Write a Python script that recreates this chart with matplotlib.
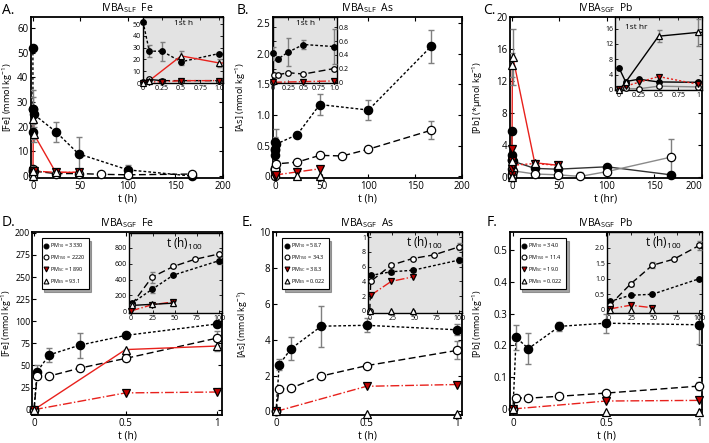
import numpy as np
import matplotlib
matplotlib.use("Agg")
import matplotlib.pyplot as plt

plt.rcParams['font.family'] = ['Open Sans', 'DejaVu Sans']
plt.rcParams['mathtext.fontset'] = 'custom'
plt.rcParams['mathtext.rm'] = 'Open Sans'
plt.rcParams['mathtext.it'] = 'Open Sans'

# ---------------- data ----------------
# A. IVBA_SLF Fe
a10_t = [0, 0.083, 0.25, 0.5, 1, 24, 48, 100, 167]
a10_y = [52, 27, 27, 18, 25, 18, 9, 2.5, 0]
a10_e = [0, 5, 8, 3, 0, 4, 7, 2, 0]
a150_t = [0, 0.083, 0.25, 0.5, 1, 24, 48, 72, 100, 167]
a150_y = [0.5, 3, 2, 2, 2, 1, 1, 0.7, 0.5, 0.8]
asc_t = [0, 0.083, 0.25, 0.5, 1, 24, 48]
asc_y = [0, 1, 1, 2, 2, 1.5, 1.5]
aes_t = [0, 0.083, 0.5, 1, 24, 48]
aes_y = [0, 2, 23, 17, 1.5, 1.5]
aes_e = [0, 0, 4, 3, 0, 1]

# B. IVBA_SLF As
b10_t = [0, 0.083, 0.25, 0.5, 1, 24, 48, 100, 167]
b10_y = [0.42, 0.34, 0.44, 0.55, 0.52, 0.68, 1.17, 1.08, 2.12]
b10_e = [0.1, 0.03, 0.2, 0.07, 0.25, 0.04, 0.17, 0.16, 0.27]
b150_t = [0, 0.017, 0.083, 0.25, 0.5, 1, 24, 48, 72, 100, 167]
b150_y = [0.0, 0.1, 0.11, 0.14, 0.12, 0.2, 0.23, 0.34, 0.33, 0.44, 0.75]
b150_e = [0, 0, 0, 0, 0, 0, 0.02, 0.03, 0.02, 0.03, 0.15]
bsc_t = [0, 0.5, 1, 24, 48]
bsc_y = [0.0, 0.01, 0.02, 0.07, 0.12]
bes_t = [24, 48]
bes_y = [0.0, 0.0]

# C. IVBA_SGF Pb
c10_t = [0, 0.083, 0.25, 0.5, 1, 24, 48, 100, 167]
c10_y = [5.8, 2.2, 2.8, 2.1, 2.0, 1.1, 1.0, 1.3, 0.3]
c150_t = [0, 0.083, 0.25, 0.5, 1, 24, 48, 72, 100, 167]
c150_y = [0.0, 0.4, 0.3, 1.0, 0.8, 0.4, 0.3, 0.1, 0.7, 2.5]
c150_e = [0, 0, 0, 0, 0, 0, 0, 0.5, 0.3, 2.3]
csc_t = [0, 0.083, 0.25, 0.5, 1, 24, 48]
csc_y = [0.3, 1.0, 2.0, 3.5, 1.5, 1.7, 1.5]
ces_t = [0, 0.083, 0.5, 1, 24, 48]
ces_y = [0, 2.0, 14.0, 15.0, 1.8, 1.5]
ces_e = [0, 0, 1.5, 3.5, 0, 0]

# D. IVBA_SGF Fe
d_t = [0, 0.017, 0.083, 0.25, 0.5, 1]
d10_y = [0, 43, 62, 73, 84, 97]
d10_e = [0, 7, 8, 14, 3, 3]
d150_y = [0, 38, 38, 47, 58, 81]
d150_e = [0, 0, 0, 3, 3, 8]
dsc_t = [0, 0.5, 1]
dsc_y = [0, 19, 20]
des_y = [0, 68, 72]
des_e = [0, 0, 6]
di10_t = [1, 24, 48, 100]
di10_y = [97, 275, 455, 640]
di10_e = [0, 40, 15, 40]
di150_t = [1, 24, 48, 72, 100]
di150_y = [81, 430, 565, 655, 725]
di150_e = [0, 70, 0, 0, 20]
disc_t = [0, 24, 48]
disc_y = [0, 80, 115]
dies_t = [1, 24, 48]
dies_y = [71, 85, 100]
dies_e = [0, 20, 30]
d_ticks = [0, 25, 50, 75, 100, 125, 150, 175, 200]
d_ticklabels = ['0', '25', '50', '75', '100', '225', '250', '275', '200']

# E. IVBA_SGF As
e10_y = [0, 2.6, 3.5, 4.75, 4.8, 4.55]
e10_e = [0, 0.3, 0.65, 1.15, 0.4, 0.3]
e150_y = [0, 1.25, 1.3, 1.97, 2.55, 3.4]
e150_e = [0, 0.1, 0.1, 0.15, 0.08, 0.5]
esc_y = [0, 1.4, 1.5]
ees_y = [0, -0.15, -0.15]
ei10_t = [1, 24, 48, 100]
ei10_y = [4.8, 5.3, 5.5, 6.9]
ei10_e = [0, 0.3, 0.2, 0.4]
ei150_t = [0, 1, 24, 48, 72, 100]
ei150_y = [0, 4.0, 6.2, 7.1, 7.6, 8.7]
ei150_e = [0, 0, 0.2, 0, 0, 0.5]
eisc_t = [1, 24, 48]
eisc_y = [2.1, 4.0, 4.6]
eies_t = [0, 24, 48]
eies_y = [0, 0, 0]

# F. IVBA_SGF Pb
f10_y = [0, 0.225, 0.19, 0.26, 0.27, 0.265]
f10_e = [0, 0.04, 0.05, 0.015, 0.03, 0.06]
f150_y = [0, 0.035, 0.034, 0.04, 0.05, 0.072]
f150_e = [0, 0, 0, 0, 0.005, 0.012]
fsc_y = [0, 0.025, 0.027]
fes_y = [0, -0.01, -0.01]
fi10_t = [1, 24, 48, 100]
fi10_y = [0.27, 0.47, 0.5, 1.0]
fi150_t = [1, 24, 48, 72, 100]
fi150_y = [0.15, 0.83, 1.43, 1.63, 2.07]
fi150_e = [0, 0.05, 0.1, 0, 0.15]
fisc_t = [1, 24, 48]
fisc_y = [0.03, 0.15, 0.07]
fies_t = [1, 24, 48]
fies_y = [0, 0, 0]

legend_names = ['PM$_{10}$', 'PM$_{150}$', 'PM$_{SC}$', 'PM$_{ES}$']
d_leg = ['3330', '2220', '1890', '93.1']
e_leg = ['58.7', '34.3', '38.3', '0.022']
f_leg = ['34.0', '11.4', '19.0', '0.022']

# ---------------- styles ----------------
RED = '#e8211c'
STY = {
    'pm10': dict(marker='o', mfc='black', ls=(0, (2, 1.5)), lc='black'),
    'pm150': dict(marker='o', mfc='white', ls=(0, (5, 2.5)), lc='black'),
    'pmsc': dict(marker='v', mfc='#c00000', ls='-.', lc=RED),
    'pmes': dict(marker='^', mfc='white', ls='-', lc=RED),
}
W, H = 709, 443
TICK_FS = 7.0


def px_axes(fig, x0, y0, x1, y1, **kw):
    return fig.add_axes([x0 / W, 1 - y1 / H, (x1 - x0) / W, (y1 - y0) / H], **kw)


def draw(ax, t, y, kind, err=None, ms=6, lc=None, ls=None, lw=1.0):
    s = STY[kind]
    ls = s['ls'] if ls is None else ls
    lc = s['lc'] if lc is None else lc
    if ls != 'none':
        ax.plot(t, y, ls=ls, color=lc, lw=lw, zorder=2)
    if err is not None:
        ax.errorbar(t, y, yerr=err, fmt='none', ecolor='#7f7f7f', elinewidth=1,
                    capsize=2.5 if ms > 5 else 1.8, zorder=3)
    ax.plot(t, y, ls='none', marker=s['marker'], ms=ms, mfc=s['mfc'],
            mec='black', mew=0.9, zorder=4, clip_on=False)


def style_axes(ax, ylabel_x, lw=1.3):
    ax.tick_params(direction='in', top=True, right=True, labelsize=TICK_FS,
                   length=3, width=0.8, pad=2)
    for sp in ax.spines.values():
        sp.set_linewidth(lw)
    ax.yaxis.set_label_coords(ylabel_x, 0.5)


def make_inset(ax, fs=5):
    ax.set_facecolor('#e3e3e3')
    ax.tick_params(direction='in', top=True, right=True, labelsize=fs, length=2, width=0.6, pad=1.5)
    for sp in ax.spines.values():
        sp.set_linewidth(1.0)


fig = plt.figure(figsize=(W / 100, H / 100), dpi=100)

# ---------------- A ----------------
ax = px_axes(fig, 31, 17, 223, 178)
draw(ax, a10_t, a10_y, 'pm10', a10_e)
draw(ax, a150_t, a150_y, 'pm150')
draw(ax, asc_t, asc_y, 'pmsc')
draw(ax, aes_t, aes_y, 'pmes', aes_e)
ax.set_xlim(-2, 200)
ax.set_ylim(-0.8, 64.5)
ax.set_xticks([0, 50, 100, 150, 200])
ax.set_yticks([0, 10, 20, 30, 40, 50, 60])
ax.set_xlabel('t (h)', fontsize=7.5, labelpad=1)
ax.set_ylabel('[Fe] (mmol kg$^{-1}$)', fontsize=6.6)
style_axes(ax, -0.082)
ax.set_title('IVBA$_{SLF}$  Fe', fontsize=7.5, pad=4)
ins = px_axes(fig, 143, 17, 223, 83)
make_inset(ins)
draw(ins, a10_t, a10_y, 'pm10', a10_e, ms=4)
draw(ins, a150_t, a150_y, 'pm150', ms=4)
draw(ins, asc_t, asc_y, 'pmsc', ms=4)
draw(ins, aes_t, aes_y, 'pmes', aes_e, ms=4)
ins.set_xlim(0, 1.05)
ins.set_ylim(0, 56)
ins.set_xticks([0, 0.25, 0.5, 0.75, 1.0])
ins.set_xticklabels(['0', '0.25', '0.5', '0.75', '1.0'])
ins.set_yticks([0, 10, 20, 30, 40, 50])
ins.text(0.5, 0.9, '1st h', transform=ins.transAxes, ha='center', va='center', fontsize=6)

# ---------------- B ----------------
ax = px_axes(fig, 273, 17, 462, 178)
draw(ax, b10_t, b10_y, 'pm10', b10_e)
draw(ax, b150_t, b150_y, 'pm150', b150_e)
draw(ax, bsc_t, bsc_y, 'pmsc')
draw(ax, bes_t, bes_y, 'pmes', ls='none')
ax.set_xlim(-2, 200)
ax.set_ylim(-0.03, 2.6)
ax.set_xticks([0, 50, 100, 150, 200])
ax.set_yticks([0, 0.5, 1.0, 1.5, 2.0, 2.5])
ax.set_yticklabels(['0', '0.5', '1.0', '1.5', '2.0', '2.5'])
ax.set_xlabel('t (h)', fontsize=7.5, labelpad=1)
ax.set_ylabel('[As] (mmol kg$^{-1}$)', fontsize=6.6)
style_axes(ax, -0.13)
ax.set_title('IVBA$_{SLF}$  As', fontsize=7.5, pad=4)
ins = px_axes(fig, 273, 17, 337, 83)
make_inset(ins)
ins.tick_params(labelleft=False, labelright=True)
draw(ins, b10_t, b10_y, 'pm10', b10_e, ms=4)
draw(ins, b150_t, b150_y, 'pm150', ms=4)
draw(ins, bsc_t, bsc_y, 'pmsc', ms=4)
ins.set_xlim(0, 1.05)
ins.set_ylim(-0.01, 0.95)
ins.set_xticks([0, 0.25, 0.5, 0.75, 1.0])
ins.set_xticklabels(['0', '0.25', '0.5', '0.75', '1.0'])
ins.set_yticks([0, 0.2, 0.4, 0.6, 0.8])
ins.set_yticklabels(['0', '0.2', '0.4', '0.6', '0.8'])
ins.text(0.5, 0.9, '1st h', transform=ins.transAxes, ha='center', va='center', fontsize=6)

# ---------------- C ----------------
ax = px_axes(fig, 510, 17, 702, 178)
draw(ax, c10_t, c10_y, 'pm10', ls='-', lc='#333333')
draw(ax, c150_t, c150_y, 'pm150', c150_e, ls='-', lc='#8a8a8a')
draw(ax, csc_t, csc_y, 'pmsc', ls=(0, (1.5, 1.5)))
draw(ax, ces_t, ces_y, 'pmes', ces_e)
ax.set_xlim(-2, 200)
ax.set_ylim(-0.1, 20)
ax.set_xticks([0, 50, 100, 150, 200])
ax.set_yticks([0, 4, 8, 12, 16, 20])
ax.set_xlabel('t (hr)', fontsize=7.5, labelpad=1)
ax.set_ylabel('[Pb] (*\u00b5mol kg$^{-1}$)', fontsize=6.6)
style_axes(ax, -0.13)
ax.set_title('IVBA$_{SGF}$  Pb', fontsize=7.5, pad=4)
ax.get_xticklabels()[-1].set_ha('right')
ins = px_axes(fig, 615, 17, 702, 90)
make_inset(ins)
draw(ins, c10_t, c10_y, 'pm10', ms=4, ls='-', lc='black')
draw(ins, c150_t, c150_y, 'pm150', ms=4, ls='-', lc='#8a8a8a')
draw(ins, csc_t, csc_y, 'pmsc', ms=4, ls=(0, (1.5, 1.5)))
draw(ins, ces_t, ces_y, 'pmes', ces_e, ms=4, lc='black')
ins.set_xlim(-0.05, 1.05)
ins.set_ylim(0, 19)
ins.set_xticks([0, 0.25, 0.5, 0.75, 1.0])
ins.set_xticklabels(['0', '0.25', '0.5', '0.75', '1'])
ins.set_yticks([0, 4, 8, 12, 16])
ins.text(0.12, 0.86, '1st hr', transform=ins.transAxes, ha='left', va='center', fontsize=6)


# ---------------- D, E, F ----------------
def bottom_panel(x0, x1, ylim, yticks, yticklabels, ylabel, ylabel_x, title,
                 m10, e10, m150, e150, msc, mes, emes, es_line, leg_vals):
    ax = px_axes(fig, x0, 232, x1, 415)
    draw(ax, d_t, m10, 'pm10', e10)
    draw(ax, d_t, m150, 'pm150', e150)
    draw(ax, dsc_t, msc, 'pmsc')
    draw(ax, dsc_t, mes, 'pmes', emes, ls='-' if es_line else 'none')
    ax.set_ylim(*ylim)
    ax.set_xticks([0, 0.5, 1])
    ax.set_xticklabels(['0', '0.5', '1'])
    ax.set_yticks(yticks)
    ax.set_yticklabels(yticklabels)
    ax.set_xlabel('t (h)', fontsize=7.5, labelpad=1)
    ax.set_ylabel(ylabel, fontsize=6.4)
    style_axes(ax, ylabel_x)
    ax.set_title(title, fontsize=7.5, pad=4)
    handles = [plt.Line2D([], [], ls='none', marker=STY[k]['marker'], ms=3.5,
                          mfc=STY[k]['mfc'], mec='black', mew=0.8)
               for k in ['pm10', 'pm150', 'pmsc', 'pmes']]
    labels = [f'{n} = {v}' for n, v in zip(legend_names, leg_vals)]
    leg = ax.legend(handles, labels, loc='upper left', bbox_to_anchor=(0.05, 0.965),
                    prop={'size': 4.0}, frameon=True, fancybox=False, shadow=True,
                    handlelength=0.6, handletextpad=0.4, borderpad=0.55,
                    labelspacing=0.55, borderaxespad=0)
    leg.get_frame().set_edgecolor('black')
    leg.get_frame().set_linewidth(0.8)
    return ax


ax = bottom_panel(32, 222, (-6, 201), d_ticks, d_ticklabels, '[Fe] (mmol kg$^{-1}$)', -0.094,
                  'IVBA$_{SGF}$  Fe', d10_y, d10_e, d150_y, d150_e, dsc_y, des_y,
                  des_e, True, d_leg)
ax.set_xlim(-0.011, 1.027)
ax.tick_params(axis='y', pad=1.2, labelsize=6.3)
ins = px_axes(fig, 129, 233, 222, 313)
make_inset(ins)
draw(ins, di10_t, di10_y, 'pm10', di10_e, ms=4)
draw(ins, di150_t, di150_y, 'pm150', di150_e, ms=4)
draw(ins, disc_t, disc_y, 'pmsc', ms=4)
draw(ins, dies_t, dies_y, 'pmes', dies_e, ms=4, lc='black')
ins.set_xlim(-2, 103)
ins.set_ylim(-25, 990)
ins.set_xticks([0, 25, 50, 75, 100])
ins.set_yticks([0, 200, 400, 600, 800])
ins.text(0.6, 0.86, 't (h)$_{100}$', transform=ins.transAxes, ha='center', va='center', fontsize=8.5)

ax = bottom_panel(273, 462, (-0.2, 10), [0, 2, 4, 6, 8, 10], ['0', '2', '4', '6', '8', '10'],
                  '[As] (mmol kg$^{-1}$)', -0.12, 'IVBA$_{SGF}$  As', e10_y, e10_e, e150_y, e150_e,
                  esc_y, ees_y, None, False, e_leg)
ax.set_xlim(-0.017, 1.028)
ins = px_axes(fig, 368, 232, 462, 313)
make_inset(ins)
draw(ins, ei10_t, ei10_y, 'pm10', ei10_e, ms=4)
draw(ins, ei150_t, ei150_y, 'pm150', ei150_e, ms=4)
draw(ins, eisc_t, eisc_y, 'pmsc', ms=4)
draw(ins, eies_t, eies_y, 'pmes', ms=4, ls='none')
ins.set_xlim(-2, 103)
ins.set_ylim(-0.3, 10.7)
ins.set_xticks([0, 25, 50, 75, 100])
ins.set_yticks([0, 2, 4, 6, 8, 10])
ins.set_yticklabels(['0', '2', '4', '6', '8', '1'])
ins.text(0.6, 0.86, 't (h)$_{100}$', transform=ins.transAxes, ha='center', va='center', fontsize=8.5)

ax = bottom_panel(510, 702, (-0.019, 0.557), [0, 0.1, 0.2, 0.3, 0.4, 0.5],
                  ['0', '0.1', '0.2', '0.3', '0.4', '0.5'], '[Pb] (mmol kg$^{-1}$)', -0.13,
                  'IVBA$_{SGF}$  Pb', f10_y, f10_e, f150_y, f150_e, fsc_y, fes_y,
                  None, False, f_leg)
ax.set_xlim(-0.016, 1.016)
ins = px_axes(fig, 607, 232, 702, 313)
make_inset(ins)
draw(ins, fi10_t, fi10_y, 'pm10', ms=4)
draw(ins, fi150_t, fi150_y, 'pm150', fi150_e, ms=4)
draw(ins, fisc_t, fisc_y, 'pmsc', ms=4)
draw(ins, fies_t, fies_y, 'pmes', ms=4, ls='none')
ins.set_xlim(-2, 103)
ins.set_ylim(-0.1, 2.5)
ins.set_xticks([0, 25, 50, 75, 100])
ins.set_yticks([0, 0.5, 1.0, 1.5, 2.0])
ins.set_yticklabels(['0', '0.5', '1.0', '1.5', '2.0'])
ins.text(0.6, 0.86, 't (h)$_{100}$', transform=ins.transAxes, ha='center', va='center', fontsize=8.5)

# panel letters
for lab, x, y in [('A.', 2, 10), ('B.', 237, 10), ('C.', 483, 10),
                  ('D.', 2, 222), ('E.', 242, 222), ('F.', 487, 222)]:
    fig.text(x / W, 1 - y / H, lab, fontsize=10, ha='left', va='center')

fig.savefig('out.png', dpi=100)
